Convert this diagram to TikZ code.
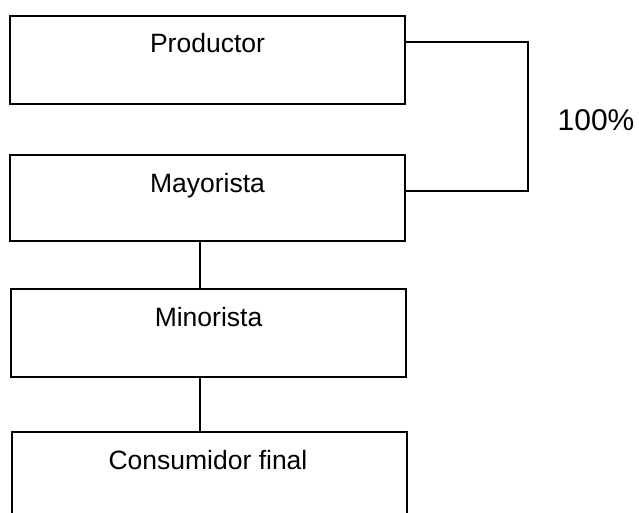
\documentclass[tikz,border=0pt]{standalone}
\usepackage{fontspec}
\setmainfont{Liberation Sans}
\begin{document}
\begin{tikzpicture}[x=1pt,y=1pt,
  stagebox/.style={draw=black, line width=2pt, minimum width=395pt, inner sep=0pt, fill=white},
  stagetext/.style={anchor=base, inner sep=0pt, font=\fontsize{26.5pt}{30pt}\selectfont},
  link/.style={draw=black, line width=2pt}]
\useasboundingbox (0,0) rectangle (639,-513);
\clip (0,0) rectangle (639,-513);
% boxes
\node[stagebox, minimum height=88pt] (p) at (207.5,-60) {};
\node[stagebox, minimum height=86pt] (m) at (207.5,-198) {};
\node[stagebox, minimum height=88pt] (n) at (208.5,-333) {};
\node[stagebox, minimum height=110pt] (c) at (209,-487) {};
% texts
\node[stagetext] (pt) at ([yshift=-38pt]p.north) {Productor};
\node[stagetext] (mt) at ([yshift=-38pt]m.north) {Mayorista};
\node[stagetext] (nt) at ([yshift=-38pt]n.north) {Minorista};
\node[stagetext] (ct) at ([yshift=-38pt, xshift=-1pt]c.north) {Consumidor final};
% connectors
\draw[link] ([yshift=18pt]p.east) -- ++(122,0) coordinate (turn) |- ([yshift=7pt]m.east);
\draw[link] ([xshift=-7.5pt]m.south) -- ([xshift=-8.5pt]n.south |- n.north);
\draw[link] ([xshift=-8.5pt]n.south) -- ([xshift=-8.5pt]n.south |- c.north);
% label
\node[anchor=base, inner sep=0pt, font=\fontsize{30pt}{34pt}\selectfont] (pct) at (596,-131) {100\%};
\end{tikzpicture}
\end{document}
